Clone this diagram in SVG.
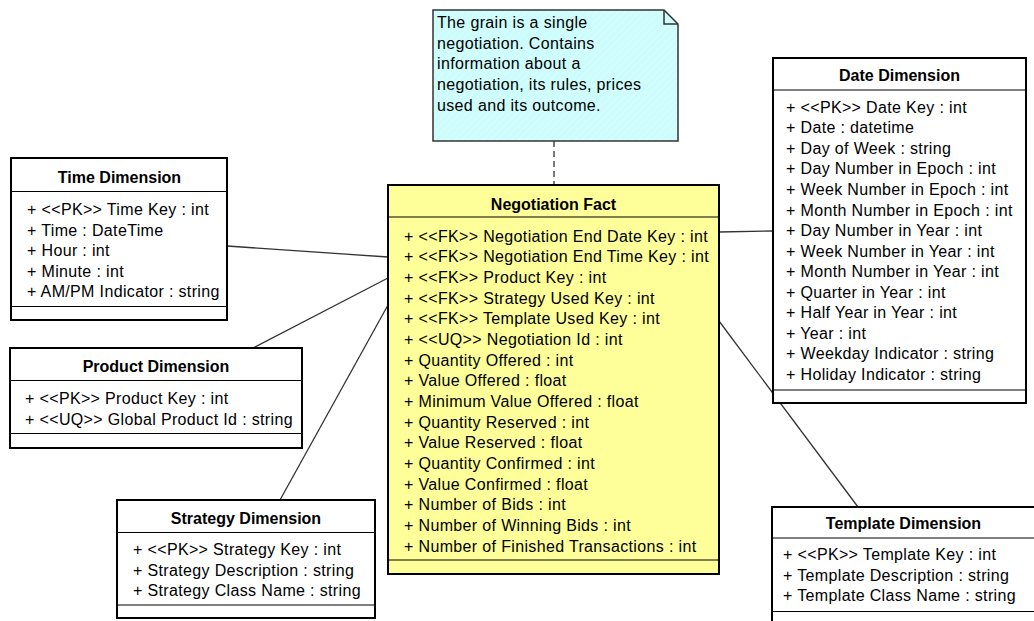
<svg xmlns="http://www.w3.org/2000/svg" width="1034" height="621" viewBox="0 0 1034 621">
<defs>
<pattern id="hatch" width="5" height="5" patternUnits="userSpaceOnUse" patternTransform="rotate(45)">
<rect width="5" height="5" fill="#ccfcfc"/>
<line x1="0" y1="0" x2="0" y2="5" stroke="#dcffff" stroke-width="1.5"/>
</pattern>
<style>
.box{fill:#fff;stroke:#000;stroke-width:2}
.fact{fill:#ffff99;stroke:#000;stroke-width:2}
.div{stroke:#000;stroke-width:1}
.t{font-family:"Liberation Sans",Arial,sans-serif;font-size:16px;letter-spacing:0.35px;fill:#000}
.h{font-family:"Liberation Sans",Arial,sans-serif;font-size:16px;font-weight:bold;fill:#000;text-anchor:middle}
.c{stroke:#333;stroke-width:1.3;fill:none}
</style>
</defs>
<rect width="1034" height="621" fill="#fff"/>

<g id="connectors">
<line class="c" x1="554" y1="141" x2="554" y2="185" stroke-dasharray="6,4"/>
<line class="c" x1="227" y1="246" x2="388" y2="257"/>
<line class="c" x1="388" y1="278" x2="253" y2="348"/>
<line class="c" x1="388" y1="305" x2="280" y2="500"/>
<line class="c" x1="719" y1="232" x2="773" y2="231"/>
<line class="c" x1="719" y1="321" x2="858" y2="507"/>
</g>

<g id="note">
<path d="M433 10 H664 L678 24 V141 H433 Z" fill="url(#hatch)" stroke="#333" stroke-width="1.5"/>
<path d="M664 10 V24 H678" fill="none" stroke="#333" stroke-width="1.5"/>
<text class="t" x="437" y="28">The grain is a single</text>
<text class="t" x="437" y="49">negotiation. Contains</text>
<text class="t" x="437" y="69">information about a</text>
<text class="t" x="437" y="90">negotiation, its rules, prices</text>
<text class="t" x="437" y="110.5">used and its outcome.</text>
</g>

<g id="time-dimension">
<rect class="box" x="11" y="158" width="216" height="162"/>
<line class="div" x1="11" y1="191.5" x2="227" y2="191.5"/>
<line class="div" x1="11" y1="306.5" x2="227" y2="306.5"/>
<text class="h" x="119.5" y="183">Time Dimension</text>
<text class="t" x="27" y="215">+ &lt;&lt;PK&gt;&gt; Time Key : int</text>
<text class="t" x="27" y="235.5">+ Time : DateTime</text>
<text class="t" x="27" y="256">+ Hour : int</text>
<text class="t" x="27" y="276.5">+ Minute : int</text>
<text class="t" x="27" y="297">+ AM/PM Indicator : string</text>
</g>

<g id="product-dimension">
<rect class="box" x="10" y="348" width="292" height="100"/>
<line class="div" x1="10" y1="380.5" x2="302" y2="380.5"/>
<line class="div" x1="10" y1="433.5" x2="302" y2="433.5"/>
<text class="h" x="156" y="372">Product Dimension</text>
<text class="t" x="25" y="403.5">+ &lt;&lt;PK&gt;&gt; Product Key : int</text>
<text class="t" x="25" y="424.5">+ &lt;&lt;UQ&gt;&gt; Global Product Id : string</text>
</g>

<g id="strategy-dimension">
<rect class="box" x="117" y="500" width="258" height="118"/>
<line class="div" x1="117" y1="532.5" x2="375" y2="532.5"/>
<line class="div" x1="117" y1="605" x2="375" y2="605"/>
<text class="h" x="246" y="523.5">Strategy Dimension</text>
<text class="t" x="133" y="555">+ &lt;&lt;PK&gt;&gt; Strategy Key : int</text>
<text class="t" x="133" y="575.5">+ Strategy Description : string</text>
<text class="t" x="133" y="596">+ Strategy Class Name : string</text>
</g>

<g id="negotiation-fact">
<rect class="fact" x="388" y="185" width="331" height="389"/>
<line class="div" x1="388" y1="217" x2="719" y2="217"/>
<line class="div" x1="388" y1="560" x2="719" y2="560"/>
<text class="h" x="553.5" y="209.5">Negotiation Fact</text>
<text class="t" x="404" y="241.5">+ &lt;&lt;FK&gt;&gt; Negotiation End Date Key : int</text>
<text class="t" x="404" y="262.2">+ &lt;&lt;FK&gt;&gt; Negotiation End Time Key : int</text>
<text class="t" x="404" y="282.8">+ &lt;&lt;FK&gt;&gt; Product Key : int</text>
<text class="t" x="404" y="303.5">+ &lt;&lt;FK&gt;&gt; Strategy Used Key : int</text>
<text class="t" x="404" y="324.2">+ &lt;&lt;FK&gt;&gt; Template Used Key : int</text>
<text class="t" x="404" y="344.8">+ &lt;&lt;UQ&gt;&gt; Negotiation Id : int</text>
<text class="t" x="404" y="365.5">+ Quantity Offered : int</text>
<text class="t" x="404" y="386.2">+ Value Offered : float</text>
<text class="t" x="404" y="406.9">+ Minimum Value Offered : float</text>
<text class="t" x="404" y="427.5">+ Quantity Reserved : int</text>
<text class="t" x="404" y="448.2">+ Value Reserved : float</text>
<text class="t" x="404" y="468.9">+ Quantity Confirmed : int</text>
<text class="t" x="404" y="489.5">+ Value Confirmed : float</text>
<text class="t" x="404" y="510.2">+ Number of Bids : int</text>
<text class="t" x="404" y="530.9">+ Number of Winning Bids : int</text>
<text class="t" x="404" y="551.5">+ Number of Finished Transactions : int</text>
</g>

<g id="date-dimension">
<rect class="box" x="773" y="58" width="253" height="345"/>
<line class="div" x1="773" y1="90" x2="1026" y2="90"/>
<line class="div" x1="773" y1="390" x2="1026" y2="390"/>
<text class="h" x="899.5" y="80.5">Date Dimension</text>
<text class="t" x="786" y="112.7">+ &lt;&lt;PK&gt;&gt; Date Key : int</text>
<text class="t" x="786" y="133.3">+ Date : datetime</text>
<text class="t" x="786" y="153.8">+ Day of Week : string</text>
<text class="t" x="786" y="174.4">+ Day Number in Epoch : int</text>
<text class="t" x="786" y="194.9">+ Week Number in Epoch : int</text>
<text class="t" x="786" y="215.5">+ Month Number in Epoch : int</text>
<text class="t" x="786" y="236.1">+ Day Number in Year : int</text>
<text class="t" x="786" y="256.6">+ Week Number in Year : int</text>
<text class="t" x="786" y="277.2">+ Month Number in Year : int</text>
<text class="t" x="786" y="297.7">+ Quarter in Year : int</text>
<text class="t" x="786" y="318.3">+ Half Year in Year : int</text>
<text class="t" x="786" y="338.9">+ Year : int</text>
<text class="t" x="786" y="359.4">+ Weekday Indicator : string</text>
<text class="t" x="786" y="380">+ Holiday Indicator : string</text>
</g>

<g id="template-dimension">
<rect class="box" x="772" y="507" width="264" height="125"/>
<line class="div" x1="772" y1="538" x2="1036" y2="538"/>
<line class="div" x1="772" y1="611.5" x2="1036" y2="611.5"/>
<text class="h" x="903.5" y="529">Template Dimension</text>
<text class="t" x="783" y="560">+ &lt;&lt;PK&gt;&gt; Template Key : int</text>
<text class="t" x="783" y="580.5">+ Template Description : string</text>
<text class="t" x="783" y="601">+ Template Class Name : string</text>
</g>
</svg>
